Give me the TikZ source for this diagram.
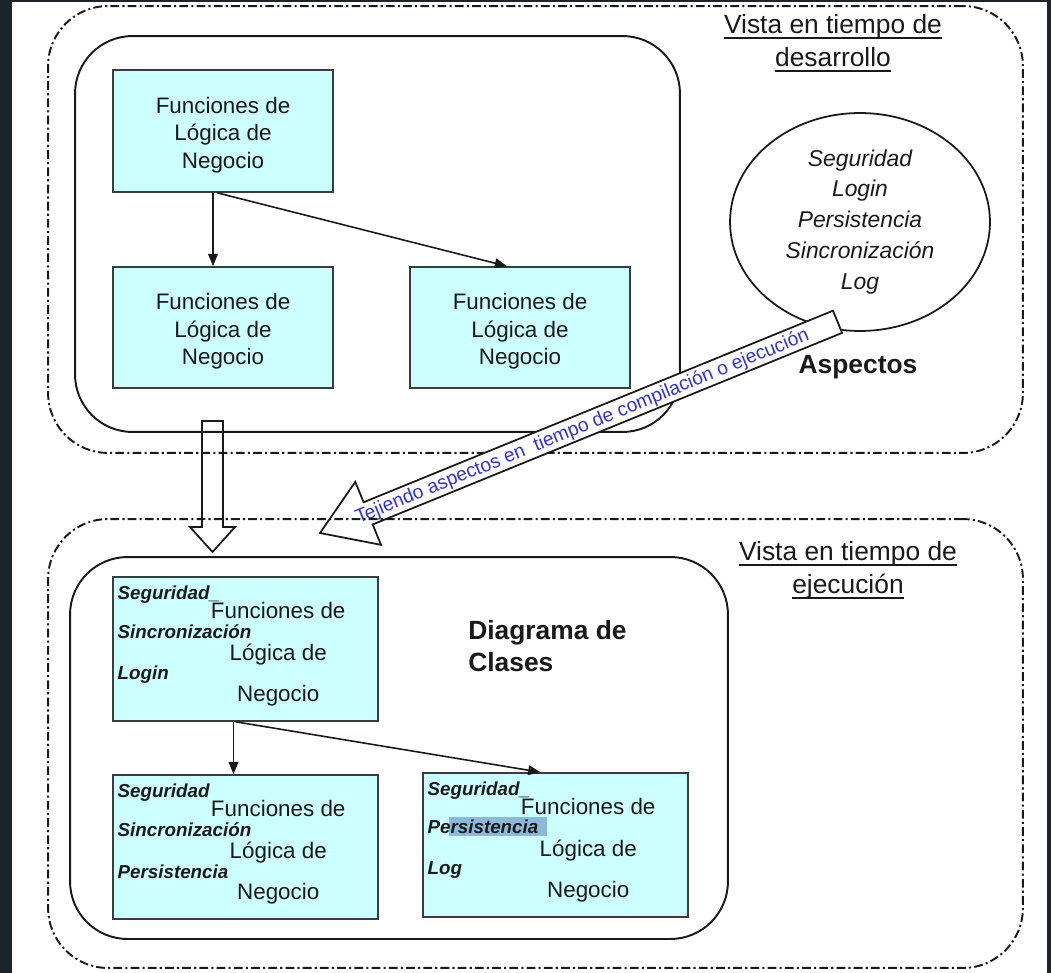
\documentclass[tikz,border=0pt]{standalone}
\usepackage{fontspec}
\setmainfont{Liberation Sans}
\usetikzlibrary{shapes.geometric, arrows.meta, calc}

\definecolor{pagedark}{RGB}{30,34,41}
\definecolor{boxfill}{RGB}{204,255,255}
\definecolor{weaveblue}{RGB}{50,50,220}
\definecolor{selhl}{RGB}{140,185,215}
\definecolor{ink}{RGB}{25,25,25}

% underline at a fixed depth below the baseline
\newcommand\headul[1]{\setbox0\hbox{#1}\rlap{\rule[-3.2pt]{\wd0}{0.9pt}}\box0}

% plain business-logic box: name, centre, height
\newcommand\logicblock[3]{%
  \node[logicbox, minimum width=4.4cm, minimum height=#3] (#1) at #2 {};
  \node[logictext, font=\fontsize{12.75}{15.6}\selectfont] (#1-t) at ($(#1.center)+(0,4)$) {Funciones de\\Lógica de\\Negocio};
}

% class box with woven aspects: name, centre, three aspect labels, extra drawing
\newcommand\wovenbox[6]{%
  \node[logicbox, minimum width=5.3cm, minimum height=2.88cm] (#1) at #2 {};
  #6
  \node[aspectlabel] (#1-a) at ($(#1.north west)+(5,18)$) {#3};
  \node[aspectlabel] (#1-b) at ($(#1.north west)+(5,55)$) {#4};
  \node[aspectlabel] (#1-c) at ($(#1.north west)+(5,98)$) {#5};
  \node[logictext] (#1-t) at ($(#1.north west)+(166,78)$) {Funciones de\\Lógica de\\Negocio};
}

\begin{document}
\begin{tikzpicture}[x=0.02cm, y=-0.02cm,
  outerframe/.style={draw=ink, line width=1.1pt, dash pattern=on 5pt off 1.8pt on 1.2pt off 1.8pt, rounded corners=1.2cm, inner sep=0},
  innerframe/.style={draw=ink, line width=1.1pt, rounded corners=1.15cm, inner sep=0},
  logicbox/.style={draw=ink!85, line width=0.9pt, fill=boxfill, inner sep=0},
  aspectlabel/.style={anchor=west, inner sep=0, text=ink, font=\fontsize{10.7}{12}\selectfont\bfseries\itshape},
  logictext/.style={inner sep=0, align=center, text=ink, font=\fontsize{12.75}{23.5}\selectfont},
  heading/.style={inner sep=0, align=center, text=ink, font=\fontsize{15}{19}\selectfont},
  boldtitle/.style={inner sep=0, text=ink, font=\fontsize{15}{18}\selectfont\bfseries},
  flow/.style={draw=ink, line width=0.9pt, -{Triangle[length=7pt,width=5.5pt]}},
  blockarrow/.style={draw=ink, line width=1pt, line join=miter}]

% page
\useasboundingbox (0,0) rectangle (1051,973);
\fill[pagedark] (0,0) rectangle (1051,973);
\fill[white] (12,2) rectangle (1047,973);

% ---------- development view ----------
\node[outerframe, minimum width=19.5cm, minimum height=8.94cm] (devview) at (535.5,229.5) {};
\node[innerframe, minimum width=12.1cm, minimum height=7.92cm] (devframe) at (377.5,234) {};

\logicblock{A}{(223,131)}{2.44cm}
\logicblock{B}{(223,327.5)}{2.42cm}
\logicblock{C}{(520,327.5)}{2.42cm}

\draw[flow] ($(A.south)+(-10,0)$) -- ($(B.north)+(-10,0)$);
\draw[flow] ($(A.south)+(-6,0)$) -- ($(C.north)+(-13,0)$);

\node[ellipse, draw=ink, line width=1pt, minimum width=5.2cm, minimum height=4.36cm, inner sep=0,
      align=center, text=ink, font=\fontsize{13}{17.6}\selectfont\itshape] (aspects) at (860,222)
      {Seguridad\\Login\\Persistencia\\Sincronización\\Log};
\node[boldtitle] (aspectstitle) at (858,367) {Aspectos};

\node[heading] (devtitle) at (833,43) {\headul{Vista en tiempo de}\\\headul{desarrollo}};

% weaving arrow from the aspects down to the runtime view
\begin{scope}[shift={(320,533)}, rotate=22.2]
  \filldraw[blockarrow, fill=white] (0,0) -- (52,-34) -- (52,-12) -- (559,-12) -- (559,12)
    -- (52,12) -- (52,34) -- cycle;
  \node[rotate=22.2, inner sep=0, text=weaveblue, font=\fontsize{11}{12}\selectfont] (weave) at (283,1)
    {Tejiendo aspectos en\ \ tiempo de compilación o ejecución};
\end{scope}

% ---------- runtime view ----------
\node[outerframe, minimum width=19.5cm, minimum height=8.98cm] (runview) at (535.5,743.5) {};
\node[innerframe, minimum width=13.16cm, minimum height=7.64cm] (runframe) at (399,748) {};

\wovenbox{D}{(245.5,649)}{Seguridad\_}{Sincronización}{Login}{}
\wovenbox{E}{(245.5,847)}{Seguridad}{Sincronización}{Persistencia}{}
\wovenbox{F}{(555.5,845)}{Seguridad\_}{Persistencia}{Log}
  {\fill[selhl] ($(F.north west)+(27,45)$) rectangle ($(F.north west)+(125,64)$);}

\draw[flow] ($(D.south)+(-12,0)$) -- ($(E.north)+(-12,0)$);
\draw[flow] ($(D.south)+(-10,0)$) -- ($(F.north)+(-15,0)$);

\node[boldtitle, anchor=west, align=left] (classes) at (468,646) {Diagrama de\\Clases};
\node[heading] (runtitle) at (848,570) {\headul{Vista en tiempo de}\\\headul{ejecución}};

% hollow arrow from the development view to the runtime view
\coordinate (downtip) at (212.5,552);
\draw[blockarrow] (202,421) -- (223,421) -- (223,527) -- (235,527) -- (downtip)
  -- (190,527) -- (202,527) -- cycle;

\end{tikzpicture}
\end{document}
